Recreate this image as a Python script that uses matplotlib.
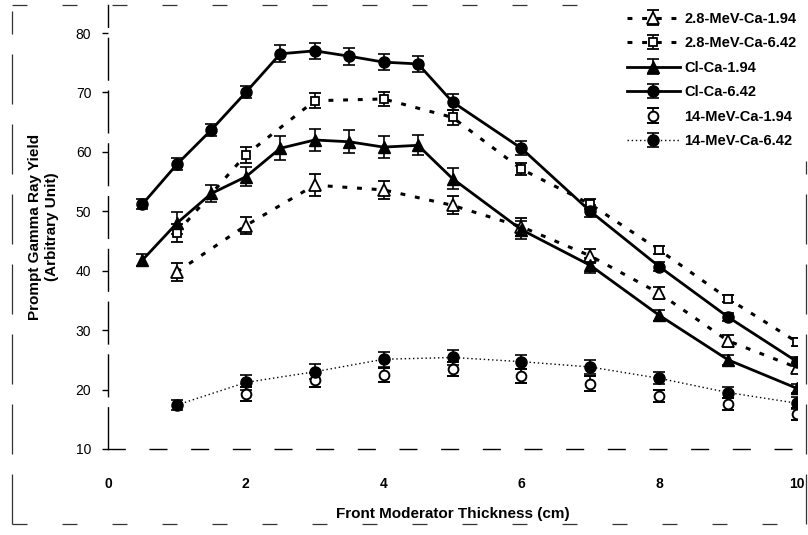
"""Prompt gamma ray yield versus front moderator thickness for several sources."""

import matplotlib.pyplot as plt
from matplotlib.lines import Line2D

plt.rcParams["font.family"] = ["Liberation Sans", "DejaVu Sans"]

# thickness grids (cm)
x_half = [0.5, 1, 1.5, 2, 2.5, 3, 3.5, 4, 4.5, 5, 6, 7, 8, 9, 10]
x_whole = [1, 2, 3, 4, 5, 6, 7, 8, 9, 10]

# 2.8 MeV source
mev28_194 = [39.8, 47.6, 54.4, 53.6, 51.0, 47.4, 42.5, 36.2, 28.2, 23.7]
mev28_194_err = [1.5, 1.5, 1.8, 1.5, 1.5, 1.5, 1.2, 1.0, 1.0, 0.8]
mev28_642 = [46.4, 59.5, 68.6, 68.9, 65.8, 57.1, 51.2, 43.5, 35.3, 28.0]
mev28_642_err = [1.5, 1.3, 1.3, 1.2, 1.2, 1.0, 0.8, 0.7, 0.6, 0.6]

# Cl-Ca source
clca_194 = [41.8, 48.0, 53.0, 55.8, 60.6, 62.0, 61.7, 60.8, 61.1, 55.5,
            46.9, 40.9, 32.5, 25.0, 20.2]
clca_194_err = [1.0, 1.8, 1.5, 1.6, 2.0, 1.9, 1.9, 1.8, 1.7, 1.8,
                1.5, 1.2, 0.9, 0.8, 0.7]
clca_642 = [51.2, 57.9, 63.7, 70.0, 76.5, 77.0, 76.1, 75.1, 74.8, 68.4,
            60.6, 50.0, 40.7, 32.2, 24.7]
clca_642_err = [0.8, 1.0, 1.0, 1.0, 1.4, 1.4, 1.4, 1.4, 1.4, 1.4,
                1.2, 1.0, 0.8, 0.7, 0.7]

# 14 MeV source
mev14_194 = [19.2, 21.6, 22.4, 23.4, 22.3, 21.0, 18.9, 17.5, 15.9]
mev14_194_err = [1.2, 1.2, 1.2, 1.2, 1.2, 1.2, 1.0, 1.0, 1.0]
mev14_642 = [17.4, 21.2, 23.0, 25.1, 25.4, 24.7, 23.8, 21.9, 19.5, 17.7]
mev14_642_err = [0.8, 1.2, 1.3, 1.3, 1.3, 1.2, 1.2, 1.0, 1.0, 1.0]

fig = plt.figure(figsize=(8.08, 5.35), dpi=100)
ax = fig.add_axes([108 / 808, 1 - 449 / 535, 689 / 808, 444 / 535])

eb = dict(ecolor="black", elinewidth=1.2, capsize=4, capthick=1.2, color="black")

ax.errorbar(x_whole, mev28_194, yerr=mev28_194_err, marker="^", ms=8,
            mfc="white", mec="black", mew=1.3, lw=2.2, ls=(0, (1.6, 3.2)),
            label="2.8-MeV-Ca-1.94", **eb)
ax.errorbar(x_whole, mev28_642, yerr=mev28_642_err, marker="s", ms=6,
            mfc="white", mec="black", mew=1.3, lw=2.2, ls=(0, (1.6, 3.2)),
            label="2.8-MeV-Ca-6.42", **eb)
ax.errorbar(x_half, clca_194, yerr=clca_194_err, marker="^", ms=8,
            mfc="black", mec="black", lw=2.0, ls="-",
            label="Cl-Ca-1.94", **eb)
ax.errorbar(x_half, clca_642, yerr=clca_642_err, marker="o", ms=8,
            mfc="black", mec="black", lw=2.0, ls="-",
            label="Cl-Ca-6.42", **eb)
ax.errorbar(x_whole[1:], mev14_194, yerr=mev14_194_err, marker="o", ms=7,
            mfc="white", mec="black", mew=1.4, ls="none",
            label="14-MeV-Ca-1.94", **eb)
ax.errorbar(x_whole, mev14_642, yerr=mev14_642_err, marker="o", ms=8,
            mfc="black", mec="black", lw=1.0, ls=(0, (1, 2)),
            label="14-MeV-Ca-6.42", **eb)

ax.set_xlim(0, 10)
ax.set_ylim(10, 80 + 28 / 5.94)
ax.set_xticks([0, 2, 4, 6, 8, 10])
ax.set_yticks([10, 20, 30, 40, 50, 60, 70, 80])
ax.tick_params(axis="y", direction="out", length=4, width=1, labelsize=10, pad=8)
ax.tick_params(axis="x", length=0, labelsize=10, pad=20)
for lab in ax.get_xticklabels():
    lab.set_fontweight("bold")

for side in ("top", "right"):
    ax.spines[side].set_visible(False)
ax.spines["left"].set_linestyle((0, (30, 8)))
ax.spines["left"].set_linewidth(1.0)
ax.spines["bottom"].set_linestyle((0, (12, 18)))
ax.spines["bottom"].set_linewidth(1.0)

ax.set_xlabel("Front Moderator Thickness (cm)", fontsize=11, fontweight="bold",
              labelpad=12)
ax.set_ylabel("Prompt Gamma Ray Yield\n(Arbitrary Unit)", fontsize=11,
              fontweight="bold", labelpad=12, linespacing=1.25)

ax.legend(loc="upper right", bbox_to_anchor=(1.0, 1.0),
          bbox_transform=fig.transFigure, frameon=False,
          prop={"weight": "bold", "size": 10.5}, handlelength=3.6,
          labelspacing=0.72, borderaxespad=0.4, handletextpad=0.3)

# outer scan frame, drawn in broken segments
frame = dict(color="#333333", lw=0.9, ls=(0, (40, 16)))
fig.add_artist(Line2D([12 / 808, 12 / 808], [0.02, 0.98], transform=fig.transFigure, **frame))
fig.add_artist(Line2D([806 / 808, 806 / 808], [0.02, 0.70], transform=fig.transFigure, **frame))
fig.add_artist(Line2D([12 / 808, 600 / 808], [1 - 5 / 535] * 2, transform=fig.transFigure,
                      color="#333333", lw=0.9, ls=(0, (12, 28))))
fig.add_artist(Line2D([12 / 808, 806 / 808], [1 - 524 / 535] * 2, transform=fig.transFigure,
                      color="#333333", lw=0.9, ls=(0, (12, 28))))

fig.savefig("out.png", dpi=100)
